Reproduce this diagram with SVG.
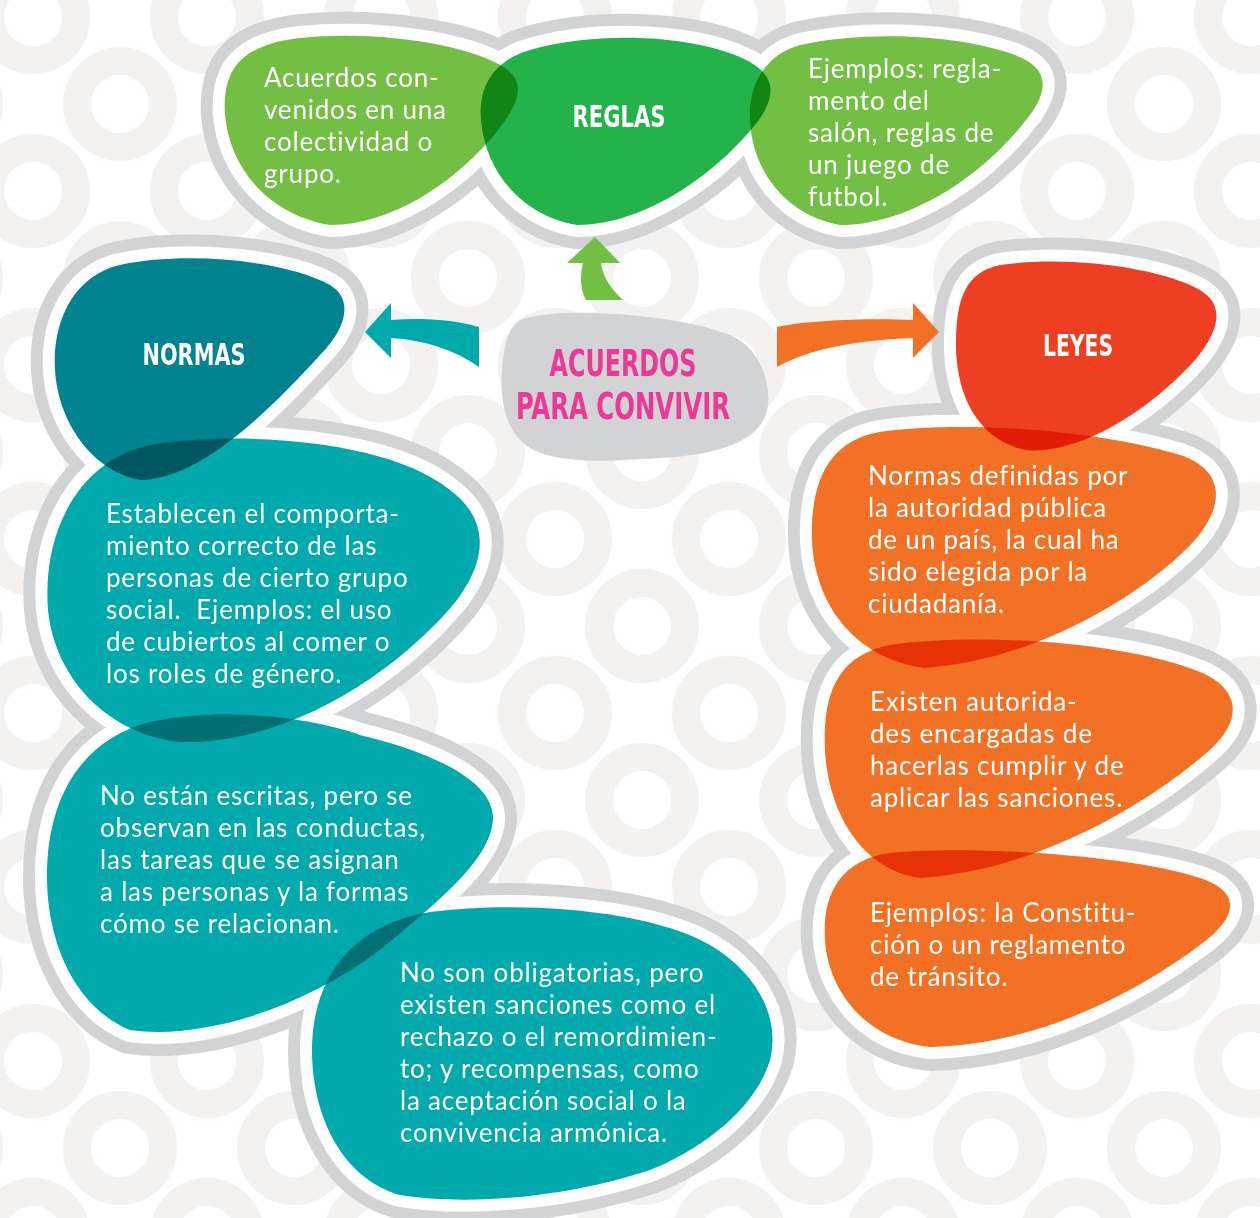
<svg xmlns="http://www.w3.org/2000/svg" xmlns:xlink="http://www.w3.org/1999/xlink" width="1260" height="1218" viewBox="0 0 1260 1218">
<style>
.body{font-family:Lato,"Open Sans","Liberation Sans",sans-serif;font-size:26px;letter-spacing:0.8px;fill:#ffffff;white-space:pre}
.title{font-family:"DejaVu Sans Condensed","Liberation Sans Narrow","DejaVu Sans",sans-serif;font-weight:bold;fill:#ffffff}
.center{font-family:"DejaVu Sans Condensed","Liberation Sans Narrow","DejaVu Sans",sans-serif;font-weight:bold;fill:#ec3995;font-size:37px}
.og{fill:#d1d3d4;stroke:#d1d3d4;stroke-width:48;stroke-linejoin:round}
.ow{fill:#ffffff;stroke:#ffffff;stroke-width:24;stroke-linejoin:round}
.blob{mix-blend-mode:multiply}
</style>
<defs>
<pattern id="rings" patternUnits="userSpaceOnUse" x="33" y="17" width="174" height="174">
<g fill="none" stroke="#f3f2f1" stroke-width="28">
<circle cx="0" cy="0" r="43"/><circle cx="174" cy="0" r="43"/><circle cx="0" cy="174" r="43"/><circle cx="174" cy="174" r="43"/><circle cx="87" cy="87" r="43"/>
</g>
</pattern>
<path id="pA" d="M330,225 C270,215 230,170 225,115 C222,70 240,45 300,38 C380,30 470,45 505,68 C530,85 515,110 490,140 C450,185 390,225 330,225 Z"/>
<path id="pB" d="M577,225 C520,215 485,170 481,120 C478,85 495,60 530,50 C600,30 700,35 750,62 C778,78 775,100 755,125 C710,180 640,225 577,225 Z"/>
<path id="pC" d="M840,225 C785,215 752,170 750,120 C748,85 765,55 800,45 C870,30 960,35 1015,55 C1050,68 1048,90 1030,115 C985,175 910,225 840,225 Z"/>
<path id="pN1" d="M140,480 C90,470 58,420 55,370 C52,320 75,275 120,265 C190,250 290,262 330,285 C355,300 345,330 320,355 C270,410 200,480 140,480 Z"/>
<path id="pN2" d="M180,742 C110,735 55,680 48,610 C42,530 80,460 150,445 C240,430 390,440 450,490 C490,520 487,560 457,600 C400,670 290,745 180,742 Z"/>
<path id="pN3" d="M130,1030 C80,1010 48,950 47,880 C46,800 80,740 150,722 C230,705 320,720 360,735 C430,752 495,780 493,820 C490,860 440,900 380,950 C300,1010 200,1040 130,1030 Z"/>
<path id="pN4" d="M400,1195 C345,1180 312,1120 312,1050 C312,980 350,925 430,912 C520,900 650,910 710,945 C760,975 780,1020 770,1060 C755,1110 700,1150 650,1170 C560,1200 460,1205 400,1195 Z"/>
<path id="pL1" d="M1025,450 C980,440 958,400 956,350 C955,300 965,272 1000,265 C1070,255 1160,268 1200,290 C1225,305 1220,330 1195,360 C1150,410 1080,455 1025,450 Z"/>
<path id="pL2" d="M925,668 C860,660 815,610 812,540 C810,480 830,440 880,432 C960,420 1100,430 1180,455 C1225,470 1225,505 1195,540 C1150,590 1040,660 925,668 Z"/>
<path id="pL3" d="M920,878 C860,870 828,810 825,750 C822,690 840,655 890,645 C970,633 1120,640 1200,672 C1243,690 1240,722 1212,748 C1160,795 1045,870 920,878 Z"/>
<path id="pL4" d="M930,1047 C865,1040 828,990 825,940 C822,895 840,860 890,853 C970,845 1130,855 1200,878 C1245,893 1235,920 1200,945 C1140,990 1040,1045 930,1047 Z"/>
</defs>

<rect x="0" y="0" width="1260" height="1218" fill="#ffffff"/>
<rect x="0" y="0" width="1260" height="1218" fill="url(#rings)"/>

<g id="outlines">
<g id="outline-reglas">
<use href="#pA" class="og"/><use href="#pB" class="og"/><use href="#pC" class="og"/>
<use href="#pA" class="ow"/><use href="#pB" class="ow"/><use href="#pC" class="ow"/>
</g>
<g id="outline-normas">
<use href="#pN1" class="og"/><use href="#pN2" class="og"/><use href="#pN3" class="og"/><use href="#pN4" class="og"/>
<use href="#pN1" class="ow"/><use href="#pN2" class="ow"/><use href="#pN3" class="ow"/><use href="#pN4" class="ow"/>
</g>
<g id="outline-leyes">
<use href="#pL1" class="og"/><use href="#pL2" class="og"/><use href="#pL3" class="og"/><use href="#pL4" class="og"/>
<use href="#pL1" class="ow"/><use href="#pL2" class="ow"/><use href="#pL3" class="ow"/><use href="#pL4" class="ow"/>
</g>
</g>

<g id="connectors">
<path fill="#72bf44" d="M586,300 C580,290 580,275 583,263 L567,263 L595,237 L620,263 L601,263 C603,278 612,290 623,300 Z"/>
<path fill="#00a9ac" d="M479,327 C450,319 420,318 391,320 L391,303 L365,332 L391,358 L391,338 C425,340 455,350 479,367 Z"/>
<path fill="#f37124" d="M777,327 C810,320 870,318 913,320 L913,303 L939,332 L913,358 L913,338 C860,340 810,348 777,367 Z"/>
</g>

<g id="node-acuerdos">
<path fill="#d1d3d4" d="M520,320 C560,305 680,315 730,335 C760,348 770,380 768,405 C765,440 720,455 660,458 C610,461 560,465 530,448 C505,433 500,400 502,370 C504,345 508,328 520,320 Z"/>
<text class="center" x="623" y="376" text-anchor="middle" textLength="147" lengthAdjust="spacingAndGlyphs">ACUERDOS</text>
<text class="center" x="623" y="419" text-anchor="middle" textLength="214" lengthAdjust="spacingAndGlyphs">PARA CONVIVIR</text>
</g>

<g id="node-reglas-def">
<use href="#pA" class="blob" fill="#72bf44"/>
<text class="body" x="264" y="87">Acuerdos con-</text>
<text class="body" x="264" y="119">venidos en una</text>
<text class="body" x="264" y="151">colectividad o</text>
<text class="body" x="264" y="183">grupo.</text>
</g>
<g id="node-reglas">
<use href="#pB" class="blob" fill="#24b34b"/>
<text class="title" x="619" y="127" font-size="30" text-anchor="middle" textLength="93" lengthAdjust="spacingAndGlyphs">REGLAS</text>
</g>
<g id="node-reglas-ej">
<use href="#pC" class="blob" fill="#72bf44"/>
<text class="body" x="808" y="78">Ejemplos: regla-</text>
<text class="body" x="808" y="110">mento del</text>
<text class="body" x="808" y="142">salón, reglas de</text>
<text class="body" x="808" y="174">un juego de</text>
<text class="body" x="808" y="206">futbol.</text>
</g>

<g id="node-normas">
<use href="#pN1" class="blob" fill="#00838f"/>
<text class="title" x="194" y="365" font-size="30" text-anchor="middle" textLength="103" lengthAdjust="spacingAndGlyphs">NORMAS</text>
</g>
<g id="node-normas-1">
<use href="#pN2" class="blob" fill="#00a9ac"/>
<text class="body" x="106" y="523">Establecen el comporta-</text>
<text class="body" x="106" y="555">miento correcto de las</text>
<text class="body" x="106" y="587">personas de cierto grupo</text>
<text class="body" x="106" y="619">social.  Ejemplos: el uso</text>
<text class="body" x="106" y="651">de cubiertos al comer o</text>
<text class="body" x="106" y="683">los roles de género.</text>
</g>
<g id="node-normas-2">
<use href="#pN3" class="blob" fill="#00a9ac"/>
<text class="body" x="100" y="805">No están escritas, pero se</text>
<text class="body" x="100" y="837">observan en las conductas,</text>
<text class="body" x="100" y="869">las tareas que se asignan</text>
<text class="body" x="100" y="901">a las personas y la formas</text>
<text class="body" x="100" y="933">cómo se relacionan.</text>
</g>
<g id="node-normas-3">
<use href="#pN4" class="blob" fill="#00a9ac"/>
<text class="body" x="400" y="982">No son obligatorias, pero</text>
<text class="body" x="400" y="1014">existen sanciones como el</text>
<text class="body" x="400" y="1046">rechazo o el remordimien-</text>
<text class="body" x="400" y="1078">to; y recompensas, como</text>
<text class="body" x="400" y="1110">la aceptación social o la</text>
<text class="body" x="400" y="1142">convivencia armónica.</text>
</g>

<g id="node-leyes">
<use href="#pL1" class="blob" fill="#ef3f23"/>
<text class="title" x="1078" y="356" font-size="30" text-anchor="middle" textLength="70" lengthAdjust="spacingAndGlyphs">LEYES</text>
</g>
<g id="node-leyes-1">
<use href="#pL2" class="blob" fill="#f37124"/>
<text class="body" x="868" y="485">Normas definidas por</text>
<text class="body" x="868" y="517">la autoridad pública</text>
<text class="body" x="868" y="549">de un país, la cual ha</text>
<text class="body" x="868" y="581">sido elegida por la</text>
<text class="body" x="868" y="613">ciudadanía.</text>
</g>
<g id="node-leyes-2">
<use href="#pL3" class="blob" fill="#f37124"/>
<text class="body" x="870" y="711">Existen autorida-</text>
<text class="body" x="870" y="743">des encargadas de</text>
<text class="body" x="870" y="775">hacerlas cumplir y de</text>
<text class="body" x="870" y="807">aplicar las sanciones.</text>
</g>
<g id="node-leyes-3">
<use href="#pL4" class="blob" fill="#f37124"/>
<text class="body" x="870" y="922">Ejemplos: la Constitu-</text>
<text class="body" x="870" y="954">ción o un reglamento</text>
<text class="body" x="870" y="986">de tránsito.</text>
</g>
</svg>
